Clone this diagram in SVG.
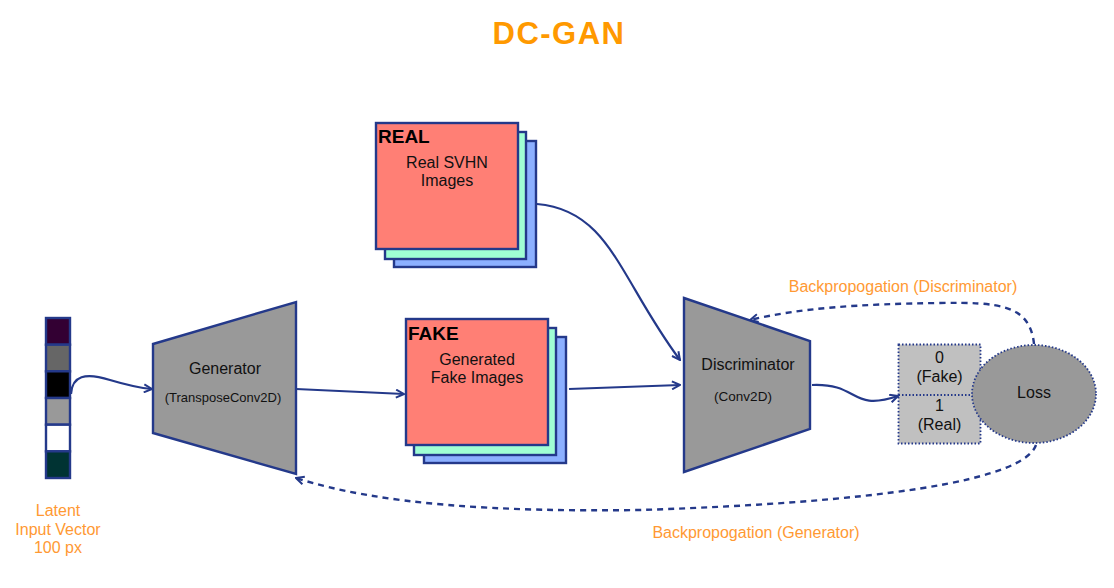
<svg xmlns="http://www.w3.org/2000/svg" width="1114" height="588" viewBox="0 0 1114 588">
<style>
text{font-family:"Liberation Sans",Arial,sans-serif;}
.lbl{font-size:16px;fill:#111;text-anchor:middle;}
.sm{font-size:13.5px;fill:#111;text-anchor:middle;}
.org{font-size:16px;fill:#FF9933;text-anchor:middle;}
.hd{font-size:19px;font-weight:bold;fill:#000;}
.nv{stroke:#24398a;stroke-width:2.4;}
.conn{fill:none;stroke:#24398a;stroke-width:2.2;}
.dash{fill:none;stroke:#24398a;stroke-width:2.4;stroke-dasharray:6,5;}
.dot{stroke:#24398a;stroke-width:1.8;stroke-dasharray:1.5,2;}
</style>
<defs>
<marker id="ah" viewBox="0 0 10 10" refX="9" refY="5" markerWidth="10" markerHeight="10" markerUnits="userSpaceOnUse" orient="auto">
<path d="M1,1 L9,5 L1,9" fill="none" stroke="#24398a" stroke-width="2"/>
</marker>
</defs>
<rect width="1114" height="588" fill="#fff"/>
<text x="559" y="44" text-anchor="middle" style="font-size:31px;font-weight:bold;fill:#FF9900;letter-spacing:1.5px">DC-GAN</text>

<g id="latent">
<rect x="46" y="318" width="24" height="26.7" fill="#330033" class="nv"/>
<rect x="46" y="344.7" width="24" height="26.7" fill="#666666" class="nv"/>
<rect x="46" y="371.3" width="24" height="26.7" fill="#000000" class="nv"/>
<rect x="46" y="398" width="24" height="26.7" fill="#999999" class="nv"/>
<rect x="46" y="424.7" width="24" height="26.7" fill="#ffffff" class="nv"/>
<rect x="46" y="451.3" width="24" height="26.7" fill="#003333" class="nv"/>
<text class="org" x="58" y="516">Latent</text>
<text class="org" x="58" y="535">Input Vector</text>
<text class="org" x="58" y="553">100 px</text>
</g>

<g id="generator">
<polygon points="153,344 296,302 296,474 153,433" fill="#999999" class="nv"/>
<text class="lbl" x="225" y="374">Generator</text>
<text class="sm" x="223" y="402" style="font-size:13px">(TransposeConv2D)</text>
</g>

<g id="real">
<rect x="394" y="141" width="142" height="126" fill="#8CB0FF" class="nv"/>
<rect x="385" y="132" width="141" height="127" fill="#A0FFD4" class="nv"/>
<rect x="376" y="123" width="142" height="126" fill="#FF7F75" class="nv"/>
<text class="hd" x="378" y="143">REAL</text>
<text class="lbl" x="447" y="168">Real SVHN</text>
<text class="lbl" x="447" y="186">Images</text>
</g>

<g id="fake">
<rect x="424" y="337" width="142" height="126" fill="#8CB0FF" class="nv"/>
<rect x="414" y="328" width="142" height="127" fill="#A0FFD4" class="nv"/>
<rect x="406" y="319" width="142" height="126" fill="#FF7F75" class="nv"/>
<text class="hd" x="408" y="340">FAKE</text>
<text class="lbl" x="477" y="365">Generated</text>
<text class="lbl" x="477" y="383">Fake Images</text>
</g>

<g id="discriminator">
<polygon points="684,298 810,341 810,429 684,472" fill="#999999" class="nv"/>
<text class="lbl" x="748" y="370">Discriminator</text>
<text class="sm" x="743" y="401">(Conv2D)</text>
</g>

<g id="output">
<rect x="898.5" y="344.5" width="82" height="99" fill="#C0C0C0" class="dot"/>
<line x1="898.5" y1="395" x2="980.5" y2="395" class="dot"/>
<text class="lbl" x="939.5" y="363">0</text>
<text class="lbl" x="939.5" y="382">(Fake)</text>
<text class="lbl" x="939.5" y="411">1</text>
<text class="lbl" x="939.5" y="430">(Real)</text>
</g>

<g id="loss">
<ellipse cx="1034" cy="394" rx="62" ry="49" fill="#999999" class="dot"/>
<text class="lbl" x="1034" y="398">Loss</text>
</g>

<g id="connectors">
<path class="conn" marker-end="url(#ah)" d="M71,394 C72,376 85,372 110,380 C130,386 140,388 152,389"/>
<path class="conn" marker-end="url(#ah)" d="M296,389 L404,394"/>
<path class="conn" marker-end="url(#ah)" d="M537,204 C610,210 620,280 680,360"/>
<path class="conn" marker-end="url(#ah)" d="M569,389 L680,385"/>
<path class="conn" marker-end="url(#ah)" d="M812,385 C860,383 850,412 898,396"/>
<path class="dash" marker-end="url(#ah)" d="M1034,344 C1030,305 1000,302 940,303 C860,304 800,308 750,320"/>
<path class="dash" marker-end="url(#ah)" d="M1036,445 C1020,490 800,505 640,510 C500,512 380,505 296,478"/>
<text class="org" x="903" y="292">Backpropogation (Discriminator)</text>
<text class="org" x="756" y="538">Backpropogation (Generator)</text>
</g>
</svg>
